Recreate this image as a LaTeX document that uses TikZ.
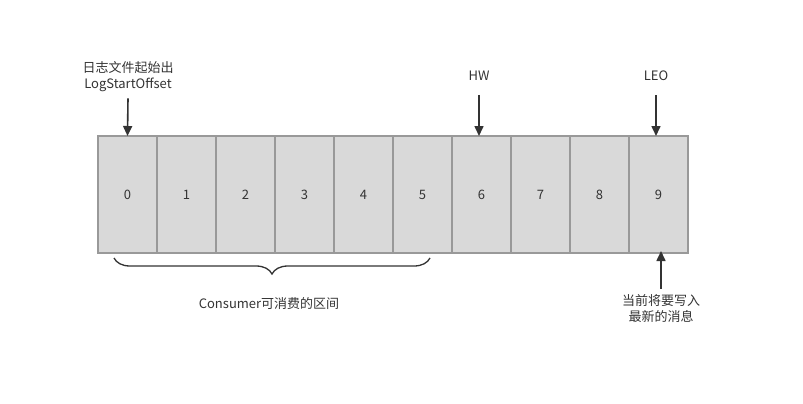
\documentclass[tikz,border=0pt]{standalone}
\usepackage{fontspec}
\setmainfont{Noto Sans CJK SC}
\usetikzlibrary{arrows.meta, positioning, decorations.pathreplacing}
\definecolor{cellfill}{HTML}{D9D9D9}
\definecolor{cellline}{HTML}{999999}
\definecolor{ink}{HTML}{333333}

\begin{document}
\begin{tikzpicture}[x=1pt, y=-1pt,
  cell/.style={fill=cellfill, minimum width=59pt, minimum height=117pt, inner sep=0pt, outer sep=0pt, font=\fontsize{13}{15}\selectfont, text=ink},
  grid/.style={draw=cellline, line width=2pt},
  tag/.style={align=center, font=\fontsize{13}{16}\selectfont, text=ink, inner sep=1pt},
  ptr/.style={-{Triangle[length=10pt, width=9pt]}, line width=1.6pt, draw=ink},
  brc/.style={decorate, decoration={brace, amplitude=16pt, mirror}, line width=1.3pt, draw=ink}
]
\useasboundingbox (0,0) rectangle (803,404);

% Log segment cells
\foreach \i in {0,...,9}{\node[cell] (c\i) at ({98+59*(\i+0.5)},194.5) {\i};}
\foreach \i in {0,...,8}{\draw[grid] (c\i.north east) -- (c\i.south east);}
\draw[grid] (c0.north west) rectangle (c9.south east);

% Labels above and below the cells
\node[tag] (lso) at (128,77) {日志文件起始出\\LogStartOffset};
\node[tag] (hw) at (479,76) {HW};
\node[tag] (leo) at (656,76) {LEO};
\node[tag] (next) at (661,309) {当前将要写入\\最新的消息};
\node[tag] (range) at (269,304) {Consumer可消费的区间};

% Pointers
\draw[ptr] ([yshift=-5pt]lso.south) -- (c0.north);
\draw[ptr] ([yshift=-13pt]hw.south) -- (hw |- c6.north);
\draw[ptr] ([yshift=-13pt]leo.south) -- (leo |- c9.north);
\draw[ptr] ([yshift=5pt]next.north) -- ([yshift=2pt]next |- c9.south);

% Consumable range
\draw[brc] ([xshift=16pt,yshift=-5pt]c0.south west) -- ([xshift=-22pt,yshift=-5pt]c5.south east);
\end{tikzpicture}
\end{document}
